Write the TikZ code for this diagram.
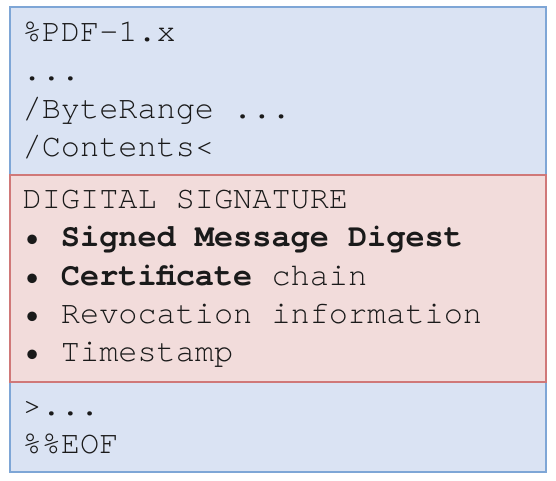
\documentclass[tikz,border=0pt]{standalone}
\usepackage{fontspec}
\setmainfont{TeX Gyre Cursor}
\definecolor{bfill}{HTML}{DAE3F3}
\definecolor{bline}{HTML}{7EA6D6}
\definecolor{rfill}{HTML}{F2DCDB}
\definecolor{rline}{HTML}{D07878}
\definecolor{txt}{HTML}{1A1A1A}
\begin{document}
\begin{tikzpicture}[x=1pt,y=-1pt,
  bluebox/.style={draw=bline,fill=bfill,line width=1.5pt},
  redbox/.style={draw=rline,fill=rfill,line width=1.5pt},
  ln/.style={anchor=base west,inner sep=0pt,text=txt,font=\fontsize{31.9}{38}\selectfont}]
\useasboundingbox (0,0) rectangle (556,481);
\path[bluebox] (10,7) rectangle (546,175);
\path[bluebox] (10,382) rectangle (546,472);
\path[redbox] (10,175) rectangle (546,382);
\node[ln] (l1) at (22.5,42) {\%PDF-1.x};
\node[ln] (l2) at (22.5,80.5) {...};
\node[ln] (l3) at (22.5,118.5) {/ByteRange ...};
\node[ln] (l4) at (22.5,157) {/Contents<};
\node[ln] (r1) at (22.5,208) {DIGITAL SIGNATURE};
\node[ln] (r2) at (22.5,246.5) {• \textbf{Signed Message Digest}};
\node[ln] (r3) at (22.5,285) {• \textbf{Certificate} chain};
\node[ln] (r4) at (22.5,323) {• Revocation information};
\node[ln] (r5) at (22.5,361) {• Timestamp};
\node[ln] (b1) at (22.5,415) {>...};
\node[ln] (b2) at (22.5,453) {\%\%EOF};
\end{tikzpicture}
\end{document}
